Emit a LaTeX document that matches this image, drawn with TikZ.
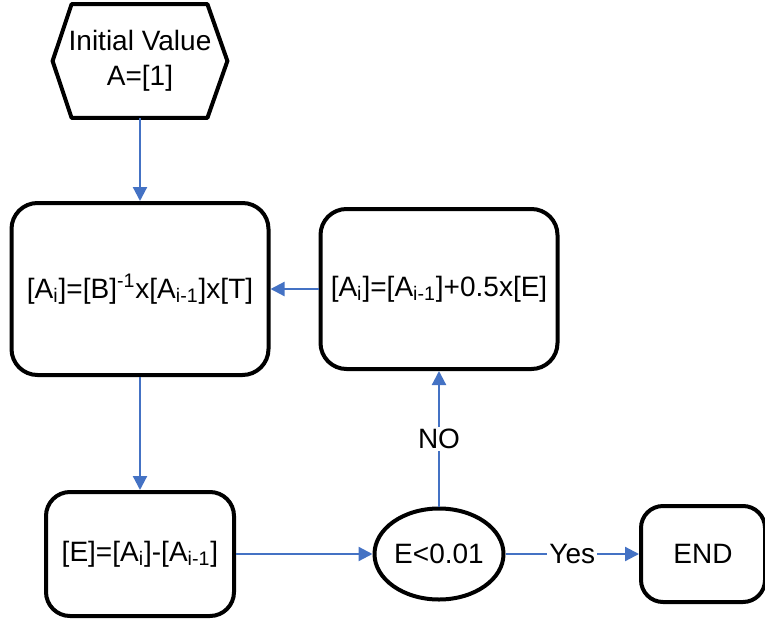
\documentclass[tikz,border=0pt]{standalone}
\usepackage{fontspec}
\setmainfont{Liberation Sans}
\usetikzlibrary{arrows.meta,shapes.geometric}
\definecolor{flowblue}{HTML}{4472C4}
\tikzset{
	stepbox/.style = {draw, line width=2pt, rounded corners=13pt, align=center, inner sep=0pt},
	flowarrow/.style = {draw=flowblue, line width=1.1pt, -{Triangle[length=7pt,width=7pt]}},
	flowlabel/.style = {fill=white, inner sep=1pt}
}

\begin{document}
\begin{tikzpicture}[x=0.5pt, y=-0.5pt, font=\fontsize{14}{17.5}\selectfont]
	\useasboundingbox (0,0) rectangle (765,621);
	% start: hexagon round a plain node
	\node[align=center, inner sep=0pt, minimum width=87pt, minimum height=56.5pt] (init) at (140,61) {Initial Value\\A=[1]};
	\draw[line width=2pt, line join=round] (init.west) -- ([xshift=9.5pt]init.north west) -- ([xshift=-10pt]init.north east) -- (init.east) -- ([xshift=-10pt]init.south east) -- ([xshift=9.5pt]init.south west) -- cycle;
	
	\node[stepbox, minimum width=128.5pt, minimum height=86pt] (upd) at (140,289) {[A\textsubscript{i}]=[B]\textsuperscript{-1}x[A\textsubscript{i-1}]x[T]};
	\node[stepbox, minimum width=118.5pt, minimum height=80pt] (relax) at (439,289) {[A\textsubscript{i}]=[A\textsubscript{i-1}]+0.5x[E]};
	\node[stepbox, rounded corners=12pt, minimum width=94pt, minimum height=62pt] (err) at (140,554) {[E]=[A\textsubscript{i}]-[A\textsubscript{i-1}]};
	\node[ellipse, draw, line width=2pt, inner sep=0pt, minimum width=64.5pt, minimum height=45.5pt] (check) at (439,554) {E<0.01};
	\node[stepbox, rounded corners=11pt, minimum width=62pt, minimum height=48pt] (stop) at (703,554) {END};
	
	\draw[flowarrow] (init) -- (upd);
	\draw[flowarrow] (relax) -- (upd);
	\draw[flowarrow] (upd) -- (err);
	\draw[flowarrow] (err) -- (check);
	\draw[flowarrow] (check) -- node[flowlabel] (no) {NO} (relax);
	\draw[flowarrow] (check) -- node[flowlabel] (yes) {Yes} (stop);
\end{tikzpicture}
\end{document}
